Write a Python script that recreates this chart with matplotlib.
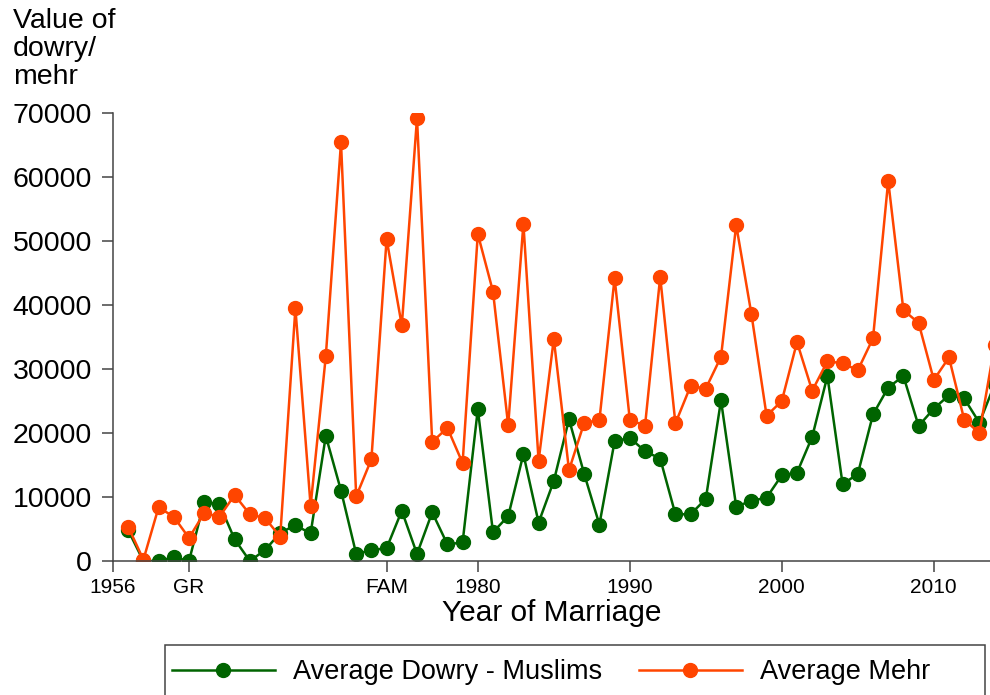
import matplotlib.pyplot as plt
from matplotlib.patches import Rectangle

plt.rcParams['font.family'] = ['Liberation Sans', 'DejaVu Sans']

# --- Data ---
years = list(range(1957, 2015))

dowry = [4800, 0, 0, 600, 0, 9200, 8900, 3400, 0, 1700,
         4400, 5600, 4300, 19550, 11000, 1100, 1700, 2000, 7850, 1100,
         7600, 2600, 2900, 23700, 4500, 7000, 16700, 6000, 12500, 22150,
         13600, 5700, 18700, 19250, 17150, 16000, 7300, 7300, 9700, 25100,
         8500, 9400, 9900, 13400, 13800, 19400, 28900, 12000, 13600, 22900,
         27100, 28900, 21100, 23800, 25900, 25400, 21600, 27600]

mehr = [5350, 200, 8400, 6900, 3600, 7500, 6900, 10300, 7300, 6700,
        3800, 39500, 8600, 32000, 65400, 10100, 15900, 50300, 36800, 69200,
        18600, 20800, 15300, 51100, 42100, 21200, 52700, 15650, 34700, 14200,
        21600, 22000, 44200, 22100, 21100, 44400, 21500, 27350, 26950, 31900,
        52500, 38600, 22700, 25000, 34200, 26600, 31200, 30900, 29800, 34800,
        59400, 39200, 37200, 28300, 31800, 22100, 20000, 33700]

xtick_pos = [1956, 1961, 1974, 1980, 1990, 2000, 2010]
xtick_lab = ['1956', 'GR', 'FAM', '1980', '1990', '2000', '2010']
ytick_pos = [0, 10000, 20000, 30000, 40000, 50000, 60000, 70000]

green = '#006400'
orange = '#FF4500'
axis_col = '#444444'

W, H = 990, 695
fig = plt.figure(figsize=(W / 100, H / 100), dpi=100)
ax = fig.add_axes([113 / W, (H - 561) / H, (W - 113) / W, 448 / H])

ax.plot(years, dowry, color=green, marker='o', markersize=10, linewidth=1.8,
        label='Average Dowry - Muslims')
ax.plot(years, mehr, color=orange, marker='o', markersize=10, linewidth=1.8,
        label='Average Mehr')

ax.set_xlim(1956, 1956 + (W - 113) / 15.2)
ax.set_ylim(0, 70000)

for s in ['top', 'right']:
    ax.spines[s].set_visible(False)
for s in ['left', 'bottom']:
    ax.spines[s].set_color(axis_col)
    ax.spines[s].set_linewidth(1.1)

ax.set_xticks(xtick_pos)
ax.set_xticklabels(xtick_lab, fontsize=15)
ax.set_yticks(ytick_pos)
ax.set_yticklabels([str(v) for v in ytick_pos], fontsize=20.5)
ax.tick_params(axis='x', length=8, width=1.1, color=axis_col, pad=4.5)
ax.tick_params(axis='y', length=8, width=1.1, color=axis_col, pad=7)

ax.set_xlabel('Year of Marriage', fontsize=21.5, labelpad=1)

fig.text(13 / W, 1 - 8 / H, 'Value of\ndowry/\nmehr', fontsize=20.5,
         ha='left', va='top', linespacing=1.1)

# legend box (bottom clipped by figure edge)
fig.patches.append(Rectangle((165 / W, -0.02), 820 / W, (H - 645) / H + 0.02,
                             transform=fig.transFigure, fill=False,
                             edgecolor=axis_col, linewidth=1.1))
fig.legend(loc='center left', bbox_to_anchor=(172 / W, 1 - 672 / H), ncol=2,
           frameon=False, fontsize=19.5, borderpad=0, borderaxespad=0,
           handlelength=3.8, handletextpad=0.67, columnspacing=1.35)

fig.savefig('out.png', dpi=100, facecolor='white')
